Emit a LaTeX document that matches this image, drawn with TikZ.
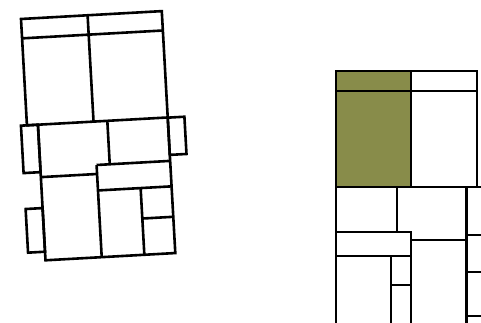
\documentclass[tikz,border=0pt]{standalone}
\definecolor{olivefill}{RGB}{136,140,74}
\begin{document}
\begin{tikzpicture}[x=1pt,y=-1pt,
  wallA/.style={draw=black,line width=2.6pt,line join=miter},
  wallB/.style={draw=black,line width=2.3pt,line join=miter,line cap=rect},
  thinwall/.style={draw=black,line width=1.8pt}]
\path[use as bounding box] (0,0) rectangle (481,323);
% ---------- left plan (rotated) ----------
\begin{scope}[shift={(21,19)},rotate=3.2]
  % top block
  \draw[wallA] (0,0) rectangle (141,106.5);
  \draw[wallA] (0,19.4) -- (141,19.4);
  \draw[wallA] (66.7,0) -- (66.7,106.5);
  % side small rooms
  \draw[wallA] (-6,106.5) rectangle (11,154);
  \draw[wallA] (141,106.7) rectangle (157.7,144);
  \draw[wallA] (-6,190) rectangle (11,233.7);
  % middle and lower part
  \draw[wallA] (11,106.5) -- (11,242.3) -- (141,242.3) -- (141,106.5);
  \draw[wallA] (80.5,106.5) -- (80.5,150);
  \draw[wallA] (11,159) -- (67.3,159);
  \draw[wallA] (67.3,150) -- (141,150);
  \draw[wallA] (67.3,150) -- (67.3,242.3);
  \draw[wallA] (67.3,175.5) -- (141,175.5);
  \draw[wallA] (110,175.5) -- (110,242.3);
  \draw[wallA] (110,206) -- (141,206);
\end{scope}
% ---------- right plan ----------
\begin{scope}
  \clip (0,0) rectangle (481,323);
  \fill[olivefill] (336,70.7) rectangle (411,187.3);
  \draw[wallB] (336,70.7) rectangle (476.7,187.3);
  \draw[thinwall] (336,90.7) -- (476.7,90.7);
  \draw[wallB] (411,70.7) -- (411,187.3);
  \draw[wallB] (336,187.3) -- (490,187.3);
  \draw[wallB] (336,187.3) -- (336,330);
  \draw[wallB] (396.7,187.3) -- (396.7,231.7);
  \draw[wallB] (336,231.7) -- (410.7,231.7);
  \draw[wallB] (410.7,231.7) -- (410.7,330);
  \draw[wallB] (410.7,240) -- (466.5,240);
  \draw[wallB] (466.5,187.3) -- (466.5,330);
  \draw[wallB] (336,255.7) -- (410.7,255.7);
  \draw[wallB] (391,255.7) -- (391,330);
  \draw[wallB] (391,285) -- (410.7,285);
  \draw[wallB] (466.5,235) -- (490,235);
  \draw[wallB] (466.5,272.3) -- (490,272.3);
  \draw[wallB] (466.5,315.7) -- (490,315.7);
\end{scope}
\end{tikzpicture}
\end{document}
